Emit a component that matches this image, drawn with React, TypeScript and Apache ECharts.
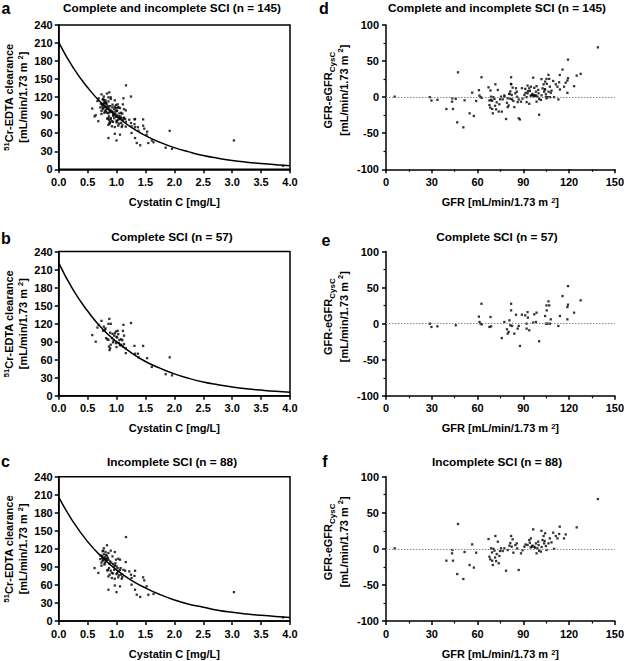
import React, { useEffect, useRef } from "react";
import * as echarts from "echarts";

// ---------- Data ----------
const panelLetters = ["a", "b", "c", "d", "e", "f"];
const panelTitles = [
  "Complete and incomplete SCI (n = 145)",
  "Complete SCI (n = 57)",
  "Incomplete SCI (n = 88)",
];

// Complete SCI: cystatin C (mg/L) vs 51Cr-EDTA clearance
const completeCys = [0.58, 0.64, 0.67, 0.69, 0.74, 0.78, 0.8, 0.82, 0.86, 0.875, 0.9, 0.86, 0.89, 0.92, 0.87, 0.9, 0.89, 0.94, 0.96, 0.99, 1.0, 1.02, 1.03, 1.05, 1.08, 1.1, 1.11, 1.12, 1.13, 0.99, 1.0, 1.08, 1.11, 1.13, 1.16, 1.16, 1.25, 1.31, 1.32, 1.37, 1.38, 1.46, 1.53, 1.61, 1.85, 1.92, 1.96, 0.84, 0.77, 0.95, 0.97, 1.04, 0.88, 1.06, 0.93, 1.01, 0.81];
const completeClr = [101, 90, 113.5, 118, 124.6, 115, 110, 96, 119.7, 128, 119.7, 93, 105, 96, 82, 85, 79, 89, 100, 107, 98, 108, 102.5, 93, 94, 92.5, 108, 118, 100, 87.5, 81, 85, 82, 86, 79, 71, 121, 83, 70, 70, 64, 83, 62.6, 48, 36, 64, 34, 94, 108, 92, 104, 88, 76, 84, 103, 97, 112];

// Incomplete SCI
const incompleteCys = [1.164, 0.835, 0.77, 0.81, 0.86, 0.9, 0.97, 0.73, 0.755, 0.79, 0.82, 0.86, 0.89, 0.93, 0.99, 1.03, 1.06, 1.16, 0.94, 0.97, 1.02, 1.06, 1.03, 0.62, 0.685, 0.85, 0.9, 1.0, 1.08, 1.15, 1.22, 1.25, 1.32, 0.86, 0.92, 0.97, 1.03, 1.09, 1.26, 1.31, 1.46, 1.48, 0.97, 1.06, 1.26, 1.52, 0.86, 1.0, 1.32, 1.35, 1.41, 1.55, 1.64, 3.03, 3.88,
  0.72, 0.74, 0.75, 0.76, 0.78, 0.79, 0.8, 0.81, 0.83, 0.84, 0.74, 0.77, 0.8, 0.82, 0.85, 0.78, 0.76, 0.88, 0.91, 0.95, 0.84, 0.88, 0.92, 0.96, 1.0, 1.04, 1.1, 1.12, 0.98, 0.94, 1.07, 1.01, 0.87];
const incompleteClr = [139.6, 126, 117, 114.7, 113, 117, 114.7, 109, 104.7, 106, 103.5, 102, 99, 107.5, 102, 103.5, 102, 98, 94.7, 92.5, 88, 85, 82.5, 88, 80, 85, 83.6, 78, 77, 83.6, 82.5, 77, 83.6, 74, 71.5, 70.3, 72.6, 70.3, 71.5, 75, 72.6, 67.6, 59, 57.6, 60.4, 57.6, 52, 48, 52, 43.7, 40, 43.7, 45, 48, 6,
  103, 97, 108, 100, 111, 94, 104, 99, 108, 101, 92, 102, 96, 110, 105, 121, 116, 95, 97, 90, 84, 77, 80, 85, 91, 76, 73, 85, 96, 79, 88, 80, 88];

// Fitted curves
const curveCys = [0, 0.25, 0.5, 0.75, 1.0, 1.25, 1.5, 1.75, 2.0, 2.25, 2.5, 2.75, 3.0, 3.25, 3.5, 3.75, 4.0];
const curveAll = [211, 169, 136, 109, 88, 70, 56, 45, 36, 29, 23, 18.5, 14.8, 11.9, 9.5, 7.6, 6.1];
const curveComplete = [221, 176, 141, 112, 90, 72, 57, 46, 36.5, 29, 23, 18.5, 14.8, 11.8, 9.5, 7.5, 6];
const curveIncomplete = [206, 165, 132, 106, 85, 68, 55, 44, 35, 28, 23, 18, 14.5, 11.7, 9.4, 7.5, 6];

// Bland-Altman: GFR vs GFR - eGFR(CysC)
const completeGfr = [28.7, 29.8, 33.7, 45.7, 60.9, 61.3, 61.9, 62.8, 62.6, 68.5, 67.8, 68.9, 75.9, 77.6, 79.3, 79.8, 80.4, 80.9, 82, 82, 81.5, 82.6, 84.1, 85.2, 86.3, 87, 87.8, 89.1, 91.3, 92.2, 92.2, 92.8, 93, 93.9, 96.5, 97.2, 98.3, 98.7, 100.4, 104.3, 104.8, 105.2, 105.4, 106, 106.5, 107, 107.4, 108, 113, 114, 115.7, 118.9, 118.9, 119.3, 119.3, 123.3, 127.6];
const completeDiff = [0, -4.6, -3.7, -2.3, 9.7, 2.3, 0, -1, 27.6, 9.2, -4.6, -3.7, -20, 2.3, -7.8, -13.8, -11.5, 4.6, 18.4, 27.6, -2.3, -3.2, -13.8, 12.4, -6.9, -3.2, -30.9, 12.4, 11.5, -6.9, 0, 16, 8.3, -9.2, 1.4, 12.9, 2.3, 15.2, -24.4, 10.6, 0, 25.3, 18.4, 0, 30.9, 25.3, 0, 6, -3.2, 10.6, 38.2, 6, 23, 26.3, 52, 15.2, 32.3];

const incompleteGfr = [5.7, 39.6, 43.3, 43.5, 43.9, 46.7, 47.2, 50.7, 51.5, 54.8, 56.5, 57.6, 59.1, 67.2, 67.8, 68.3, 68.9, 69.6, 70, 70.4, 71.1, 71.7, 72.2, 72.6, 73.3, 73.9, 74.3, 74.8, 75.4, 77.6, 78.7, 79.8, 80.9, 82, 82.4, 83, 83.5, 84.8, 85.7, 87, 88.5, 90.7, 92.8, 93.9, 94.3, 95, 95.6, 96.5, 97.2, 98.3, 98.7, 99.3, 100, 100.4, 101.5, 101.9, 102.6, 103.3, 103.7, 104.3, 104.8, 105.2, 106.5, 107.4, 109.6, 110.2, 111.3, 112.4, 113.9, 113.5, 116.7, 117.8, 125, 138.9,
  69.5, 71.5, 76.5, 81.5, 86, 89.5, 91.5, 94.8, 96, 97.8, 99.8, 102, 104, 108.5];
const incompleteDiff = [0.7, -16.4, -6.2, -1.6, -16.4, -34.9, 34.4, -41.8, -4.4, -22.4, 6.2, -26, -5.3, 13.6, -10.9, -14.5, 0.7, -16.4, -22.4, 0, -2.5, 17.8, -16.9, -7.2, 9.9, -20, -9.9, -3, 0.7, 0.7, -30.3, -1.6, 4.4, 17.8, 3, 13.2, -5.3, 5.3, 7.6, -29.3, -6.2, 3, 5.3, 12.2, 8.5, 14.5, 3, 27, 3, 7.6, -6.2, 0.7, 5.3, -2.5, -3.9, 25, 12.2, 17.8, 7.6, 21.5, 3.9, -1.6, 7.6, 14.5, 22.4, 0, 17.8, 14.5, 30.7, 20.6, 14.5, 20, 29.8, 69,
  -5, -12, -3, 8, 0.5, -2, 6, 2, 4.5, 1.5, 10, 2.5, 11, 9];

// ---------- Helpers ----------
const FONT = '"Liberation Sans", Arial, Helvetica, sans-serif';
const zip = (xs: number[], ys: number[]) => xs.map((x, i) => [x, ys[i]]);

const ROW_TOPS = [25, 251.5, 476.7];
const PLOT_H = 144.3;
const LEFT_X = 58.7;
const LEFT_W = 231.3;
const RIGHT_X = 386;
const RIGHT_W = 230;

const TITLE_Y = [1.5, 231, 456];
const LETTER_POS = [
  [6, 8.5], [6, 238], [5.5, 461],
  [324, 8.5], [326, 240], [325, 461],
];

const richStyles = {
  sup: { fontSize: 7.5, fontWeight: "bold", fontFamily: FONT, color: "#000", verticalAlign: "top", lineHeight: 9 },
  sub: { fontSize: 8, fontWeight: "bold", fontFamily: FONT, color: "#000", verticalAlign: "bottom", lineHeight: 8 },
};

function buildOption() {
  const scatterSets = [
    zip(completeCys.concat(incompleteCys), completeClr.concat(incompleteClr)),
    zip(completeCys, completeClr),
    zip(incompleteCys, incompleteClr),
    zip(completeGfr.concat(incompleteGfr), completeDiff.concat(incompleteDiff)),
    zip(completeGfr, completeDiff),
    zip(incompleteGfr, incompleteDiff),
  ];
  const curves = [curveAll, curveComplete, curveIncomplete];

  const grid: any[] = [];
  const xAxis: any[] = [];
  const yAxis: any[] = [];
  const series: any[] = [];
  const title: any[] = [];
  const graphic: any[] = [];

  const axisLineStyle = { color: "#000", width: 1.5 };
  const labelStyle = { color: "#000", fontSize: 11, fontWeight: "bold", fontFamily: FONT };
  const nameStyle = { color: "#000", fontSize: 11, fontWeight: "bold", fontFamily: FONT, rich: richStyles };

  for (let i = 0; i < 6; i++) {
    const left = i < 3;
    const row = i % 3;
    grid.push({
      left: left ? LEFT_X : RIGHT_X,
      top: ROW_TOPS[row],
      width: left ? LEFT_W : RIGHT_W,
      height: PLOT_H,
      show: left,
      borderColor: "#000",
      borderWidth: 1.5,
      backgroundColor: "transparent",
    });
    if (left) {
      xAxis.push({
        gridIndex: i, type: "value", min: 0, max: 4, interval: 0.5,
        axisLine: { show: true, onZero: false, lineStyle: axisLineStyle },
        axisTick: { show: true, length: 4, lineStyle: axisLineStyle },
        axisLabel: { ...labelStyle, margin: 7, formatter: (v: number) => v.toFixed(1) },
        splitLine: { show: false },
        name: "Cystatin C [mg/L]", nameLocation: "middle", nameGap: 27, nameTextStyle: nameStyle,
      });
      yAxis.push({
        gridIndex: i, type: "value", min: 0, max: 240, interval: 30,
        axisLine: { show: true, onZero: false, lineStyle: axisLineStyle },
        axisTick: { show: true, length: 4, lineStyle: axisLineStyle },
        axisLabel: { ...labelStyle, margin: 6 },
        splitLine: { show: false },
        name: "{sup|51}Cr-EDTA clearance\n[mL/min/1.73 m {sup|2}]",
        nameLocation: "middle", nameRotate: 90, nameGap: 27,
        nameTextStyle: { ...nameStyle, lineHeight: 14 },
      });
      series.push({
        type: "scatter", xAxisIndex: i, yAxisIndex: i, data: scatterSets[i],
        symbol: "rect", symbolSize: 2.3, itemStyle: { color: "#000" }, silent: true,
      });
      series.push({
        type: "line", xAxisIndex: i, yAxisIndex: i, data: zip(curveCys, curves[i]),
        smooth: true, showSymbol: false, symbol: "none",
        lineStyle: { color: "#000", width: 1.5 }, silent: true,
      });
    } else {
      xAxis.push({
        gridIndex: i, type: "value", min: 0, max: 150, interval: 30,
        axisLine: { show: true, onZero: false, lineStyle: axisLineStyle },
        axisTick: { show: true, length: 4, lineStyle: axisLineStyle },
        minorTick: { show: true, splitNumber: 2, length: 2.5, lineStyle: { color: "#000", width: 1.2 } },
        axisLabel: { ...labelStyle, margin: 7 },
        splitLine: { show: false },
        minorSplitLine: { show: false },
        name: "GFR [mL/min/1.73 m {sup|2}]", nameLocation: "middle", nameGap: 27, nameTextStyle: nameStyle,
      });
      yAxis.push({
        gridIndex: i, type: "value", min: -100, max: 100, interval: 50,
        axisLine: { show: true, onZero: false, lineStyle: axisLineStyle },
        axisTick: { show: true, length: 4, lineStyle: axisLineStyle },
        minorTick: { show: true, splitNumber: 2, length: 2.5, lineStyle: { color: "#000", width: 1.2 } },
        axisLabel: { ...labelStyle, margin: 7 },
        splitLine: { show: false },
        minorSplitLine: { show: false },
        name: "GFR-eGFR{sub|CysC}\n[mL/min/1.73 m {sup|2}]",
        nameLocation: "middle", nameRotate: 90, nameGap: 34,
        nameTextStyle: { ...nameStyle, lineHeight: 16, padding: [0, 0, 0, 14] },
      });
      series.push({
        type: "scatter", xAxisIndex: i, yAxisIndex: i, data: scatterSets[i],
        symbol: "rect", symbolSize: 2.3, itemStyle: { color: "#000" }, silent: true,
        markLine: {
          silent: true, symbol: ["none", "none"], label: { show: false },
          lineStyle: { color: "#888", type: [1.5, 1.5], width: 1 },
          data: [{ yAxis: 0 }],
        },
      });
    }
    title.push({
      text: panelTitles[row],
      left: left ? 172 : 497,
      top: TITLE_Y[row],
      textAlign: "center",
      padding: 0,
      textStyle: { color: "#000", fontSize: 11.8, fontWeight: "bold", fontFamily: FONT },
    });
    graphic.push({
      type: "text",
      x: LETTER_POS[i][0],
      y: LETTER_POS[i][1],
      style: {
        text: panelLetters[i], fill: "#000", fontSize: 16, fontWeight: "bold", fontFamily: FONT,
        align: "center", verticalAlign: "middle",
      },
    });
  }

  return { animation: false, backgroundColor: "#fff", grid, xAxis, yAxis, series, title, graphic };
}

export default function App() {
  const ref = useRef<HTMLDivElement>(null);
  useEffect(() => {
    if (!ref.current) return;
    const chart = echarts.init(ref.current, undefined, { renderer: "svg" });
    chart.setOption(buildOption() as any);
    return () => chart.dispose();
  }, []);
  return (
    <div
      ref={ref}
      style={{ position: "absolute", left: 0, top: 0, width: 627, height: 661, background: "#fff" }}
    />
  );
}
